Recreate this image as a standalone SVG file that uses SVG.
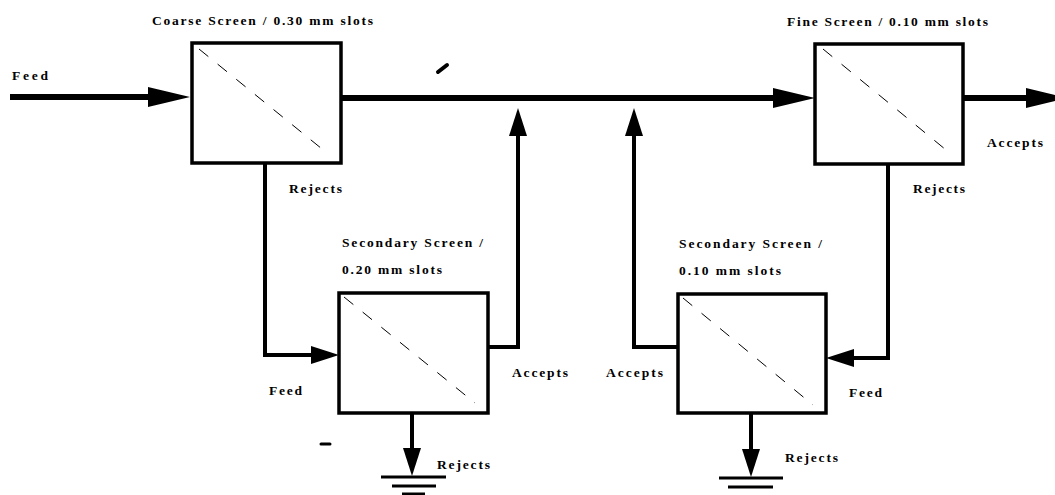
<svg xmlns="http://www.w3.org/2000/svg" width="1055" height="495" viewBox="0 0 1055 495">
<style>
text{font-family:"Liberation Serif","Times New Roman",serif;font-weight:bold;font-size:13.5px;fill:#000}
.box{fill:#fff;stroke:#000;stroke-width:3.5}
.diag{stroke:#000;stroke-width:1;stroke-dasharray:12 12;fill:none}
.main{stroke:#000;stroke-width:6;fill:none}
.sub{stroke:#000;stroke-width:4;fill:none}
.gnd{stroke:#000;stroke-width:3}
</style>
<defs>
<marker id="big" markerUnits="userSpaceOnUse" markerWidth="42" markerHeight="22" refX="0" refY="10" orient="auto" overflow="visible">
<path d="M0,0 L42,10 L0,20 z" fill="#000"/>
</marker>
<marker id="small" markerUnits="userSpaceOnUse" markerWidth="28" markerHeight="18" refX="0" refY="9" orient="auto" overflow="visible">
<path d="M0,0 L28,9 L0,18 z" fill="#000"/>
</marker>
</defs>
<g id="connectors">
<path class="main" d="M10,97 H148" marker-end="url(#big)"/>
<path class="main" d="M341,98 H773" marker-end="url(#big)"/>
<path class="main" d="M963,98 H1026" marker-end="url(#big)"/>
<path class="sub" d="M265,163 V355 H311" marker-end="url(#small)"/>
<path class="sub" d="M488,347 H518 V136" marker-end="url(#small)"/>
<path class="sub" d="M412,413 V448" marker-end="url(#small)"/>
<path class="sub" d="M888,164 V358 H854" marker-end="url(#small)"/>
<path class="sub" d="M678,347 H634 V136" marker-end="url(#small)"/>
<path class="sub" d="M751,413 V449" marker-end="url(#small)"/>
</g>
<g id="coarse">
<rect class="box" x="192" y="43" width="149" height="120"/>
<line class="diag" x1="199" y1="49" x2="327" y2="153"/>
<text x="152" y="25" textLength="221" lengthAdjust="spacing">Coarse Screen / 0.30 mm slots</text>
</g>
<g id="fine">
<rect class="box" x="815" y="44" width="148" height="120"/>
<line class="diag" x1="823" y1="49" x2="951" y2="154"/>
<text x="787" y="26" textLength="201" lengthAdjust="spacing">Fine Screen / 0.10 mm slots</text>
</g>
<g id="secondary1">
<rect class="box" x="339" y="293" width="149" height="120"/>
<line class="diag" x1="344" y1="297" x2="475" y2="403"/>
<text x="342" y="247" textLength="141" lengthAdjust="spacing">Secondary Screen /</text>
<text x="342" y="274" textLength="100" lengthAdjust="spacing">0.20 mm slots</text>
</g>
<g id="secondary2">
<rect class="box" x="678" y="294" width="148" height="119"/>
<line class="diag" x1="683" y1="298" x2="813" y2="405"/>
<text x="679" y="248" textLength="143" lengthAdjust="spacing">Secondary Screen /</text>
<text x="679" y="275" textLength="102" lengthAdjust="spacing">0.10 mm slots</text>
</g>
<g id="ground1">
<line class="gnd" x1="381" y1="477" x2="446" y2="477"/>
<line class="gnd" x1="392" y1="486" x2="436" y2="486"/>
<line class="gnd" x1="402" y1="494" x2="425" y2="494"/>
</g>
<g id="ground2">
<line class="gnd" x1="719" y1="478" x2="783" y2="478"/>
<line class="gnd" x1="728" y1="487" x2="773" y2="487"/>
</g>
<g id="labels">
<text x="12" y="80" textLength="36" lengthAdjust="spacing">Feed</text>
<text x="289" y="193" textLength="53" lengthAdjust="spacing">Rejects</text>
<text x="913" y="193" textLength="52" lengthAdjust="spacing">Rejects</text>
<text x="987" y="147" textLength="56" lengthAdjust="spacing">Accepts</text>
<text x="512" y="377" textLength="56" lengthAdjust="spacing">Accepts</text>
<text x="269" y="395" textLength="33" lengthAdjust="spacing">Feed</text>
<text x="437" y="469" textLength="53" lengthAdjust="spacing">Rejects</text>
<text x="606" y="377" textLength="57" lengthAdjust="spacing">Accepts</text>
<text x="849" y="397" textLength="33" lengthAdjust="spacing">Feed</text>
<text x="785" y="462" textLength="53" lengthAdjust="spacing">Rejects</text>
</g>
<g id="marks">
<path d="M438,72 L447,65" stroke="#000" stroke-width="4" stroke-linecap="round"/>
<path d="M321,444 H330" stroke="#000" stroke-width="3" stroke-linecap="round"/>
</g>
</svg>
